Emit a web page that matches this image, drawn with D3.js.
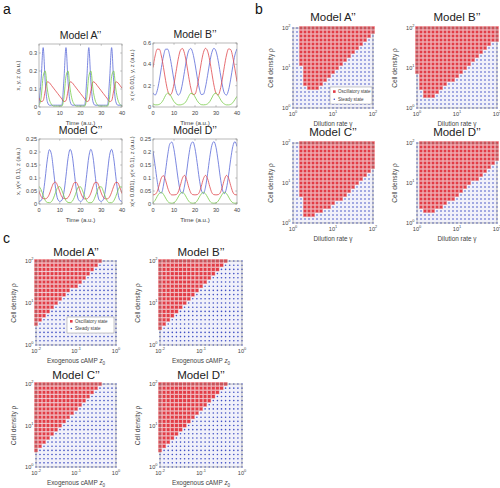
<!DOCTYPE html>
<html><head><meta charset="utf-8">
<script src="https://cdn.jsdelivr.net/npm/d3@7/dist/d3.min.js"></script>
<style>body{margin:0;background:#fff}svg{display:block}text{font-family:"Liberation Sans",Arial,sans-serif}</style>
</head><body><svg id="c" width="500" height="488"></svg>
<script>
// ---------- time-series data (t = 0..40) ----------
const time = [0,1,2,3,4,5,6,7,8,9,10,11,12,13,14,15,16,17,18,19,20,21,22,23,24,25,26,27,28,29,30,31,32,33,34,35,36,37,38,39,40];
const aX = [0.02,0.15,0.33,0.14,0.03,0.01,0.01,0.01,0.01,0.01,0.01,0.01,0.15,0.33,0.14,0.03,0.01,0.01,0.01,0.01,0.01,0.01,0.01,0.15,0.33,0.14,0.03,0.01,0.01,0.01,0.01,0.01,0.01,0.01,0.15,0.33,0.14,0.03,0.01,0.01,0.01];
const aY = [0.05,0.03,0.035,0.09,0.14,0.135,0.12,0.105,0.09,0.075,0.06,0.045,0.03,0.035,0.09,0.14,0.135,0.12,0.105,0.09,0.075,0.06,0.045,0.03,0.035,0.09,0.14,0.135,0.12,0.105,0.09,0.075,0.06,0.045,0.03,0.035,0.09,0.14,0.135,0.12,0.105];
const aZ = [0.01,0.05,0.17,0.2,0.1,0.04,0.015,0.005,0.005,0.005,0.005,0.005,0.05,0.17,0.2,0.1,0.04,0.015,0.005,0.005,0.005,0.005,0.005,0.05,0.17,0.2,0.1,0.04,0.015,0.005,0.005,0.005,0.005,0.005,0.05,0.17,0.2,0.1,0.04,0.015,0.005];
const bX = [0.134,0.111,0.153,0.249,0.370,0.478,0.542,0.542,0.478,0.370,0.249,0.153,0.111,0.134,0.217,0.333,0.449,0.529,0.549,0.503,0.405,0.284,0.178,0.117,0.120,0.187,0.297,0.416,0.510,0.550,0.523,0.438,0.321,0.206,0.129,0.112,0.161,0.261,0.382,0.487,0.545];
const bY = [0.370,0.478,0.542,0.542,0.478,0.370,0.249,0.153,0.111,0.134,0.217,0.333,0.449,0.529,0.549,0.503,0.405,0.284,0.178,0.117,0.120,0.187,0.297,0.416,0.510,0.550,0.523,0.438,0.321,0.206,0.129,0.112,0.161,0.261,0.382,0.487,0.545,0.538,0.468,0.357,0.238];
const bZ = [0.03,0.02,0.02,0.025,0.04,0.07,0.11,0.13,0.12,0.085,0.05,0.03,0.02,0.02,0.025,0.035,0.06,0.1,0.128,0.125,0.095,0.06,0.035,0.022,0.02,0.022,0.03,0.05,0.085,0.12,0.13,0.11,0.075,0.045,0.028,0.02,0.02,0.025,0.04,0.07,0.1];
const cX = [0.010,0.013,0.039,0.100,0.170,0.209,0.191,0.129,0.060,0.019,0.010,0.014,0.044,0.107,0.176,0.210,0.187,0.122,0.054,0.017,0.010,0.015,0.049,0.114,0.181,0.210,0.182,0.115,0.049,0.015,0.010,0.017,0.054,0.122,0.187,0.210,0.176,0.107,0.044,0.014,0.010];
const cY = [0.049,0.029,0.021,0.020,0.024,0.038,0.061,0.080,0.084,0.070,0.047,0.028,0.021,0.020,0.025,0.040,0.063,0.082,0.083,0.068,0.045,0.027,0.020,0.020,0.026,0.042,0.066,0.083,0.083,0.066,0.042,0.026,0.020,0.020,0.027,0.045,0.068,0.083,0.082,0.063,0.040];
const cZ = [0.068,0.055,0.033,0.014,0.006,0.005,0.009,0.023,0.045,0.063,0.067,0.053,0.031,0.013,0.006,0.005,0.010,0.025,0.047,0.065,0.066,0.051,0.029,0.012,0.005,0.005,0.010,0.027,0.049,0.066,0.066,0.049,0.027,0.010,0.005,0.005,0.012,0.029,0.051,0.066,0.065];
const dX = [0.204,0.148,0.088,0.048,0.042,0.073,0.129,0.189,0.231,0.238,0.209,0.154,0.094,0.051,0.041,0.069,0.123,0.184,0.228,0.239,0.213,0.160,0.099,0.054,0.040,0.065,0.117,0.178,0.225,0.240,0.218,0.166,0.105,0.057,0.040,0.061,0.111,0.172,0.221,0.240,0.221];
const dY = [0.035,0.037,0.048,0.074,0.101,0.109,0.091,0.062,0.042,0.035,0.035,0.036,0.046,0.071,0.099,0.110,0.094,0.065,0.043,0.036,0.035,0.036,0.044,0.068,0.097,0.110,0.097,0.068,0.044,0.036,0.035,0.036,0.043,0.065,0.094,0.110,0.099,0.071,0.046,0.036,0.035];
const dZ = [0.005,0.014,0.029,0.041,0.045,0.037,0.023,0.010,0.004,0.003,0.005,0.013,0.027,0.040,0.045,0.038,0.024,0.011,0.004,0.003,0.004,0.012,0.026,0.039,0.045,0.039,0.026,0.012,0.004,0.003,0.004,0.011,0.024,0.038,0.045,0.040,0.027,0.013,0.005,0.003,0.004];
const timeTicks = [0,10,20,30,40];

// ---------- phase-diagram data ----------
const gridB = [0,0.1,0.2,0.3,0.4,0.5,0.6,0.7,0.8,0.9,1.0,1.1,1.2,1.3,1.4,1.5,1.6,1.7,1.8,1.9,2.0];
const gridC = [-2,-1.9,-1.8,-1.7,-1.6,-1.5,-1.4,-1.3,-1.2,-1.1,-1.0,-0.9,-0.8,-0.7,-0.6,-0.5,-0.4,-0.3,-0.2,-0.1,0];
const rhoGrid = [0,0.1,0.2,0.3,0.4,0.5,0.6,0.7,0.8,0.9,1.0,1.1,1.2,1.3,1.4,1.5,1.6,1.7,1.8,1.9,2.0];
const bA_lo = [-1,-1,-1,-1,-1,4,3,3,3,3,3,2,2,2,2,2,2,2,2,2,2];
const bA_hi = [-1,-1,-1,-1,-1,6,7,8,9,10,11,12,13,14,15,16,17,18,19,20,20];
const bB_lo = [-1,-1,-1,2,2,1,1,1,1,0,0,0,0,0,0,0,0,0,0,0,0];
const bB_hi = [-1,-1,-1,4,5,6,7,9,10,11,12,13,14,15,16,17,18,20,20,20,20];
const bC_lo = [-1,-1,3,3,3,3,3,2,2,2,2,2,2,2,2,2,2,2,2,2,2];
const bC_hi = [-1,-1,5,7,9,10,12,13,14,15,16,17,18,19,20,20,20,20,20,20,20];
const bD_lo = [-1,-1,-1,2,1,1,1,1,1,1,1,1,1,1,1,1,1,1,1,1,1];
const bD_hi = [-1,-1,-1,4,6,7,9,10,11,12,13,15,16,17,18,19,20,20,20,20,20];
const cA_hi = [-1,-1,-1,-1,-1,0,1,2,3,4,5,6,7,8,10,11,12,13,14,15,16];
const cB_hi = [-1,-1,-1,-1,0,1,2,3,4,5,6,7,8,9,10,11,12,13,14,15,16];
const cC_hi = [-1,-1,-1,-1,0,1,2,3,4,5,6,7,8,9,10,11,12,13,14,15,16];
const cD_hi = [-1,-1,-1,-1,0,1,2,3,4,5,6,7,8,9,10,11,12,13,14,15,16];
const legendLabels = ["Oscillatory state","Steady state"];

const svg = d3.select("#c");
const BLUE="#5a6ad8", RED="#e0474c", GREEN="#78cc4a", AX="#8a8a8a", TXT="#444";

function label(x,y,t,size,anchor,rot){
  const e=svg.append("text").attr("x",x).attr("y",y).attr("font-size",size).attr("fill",TXT)
    .attr("text-anchor",anchor||"middle");
  if(rot) e.attr("transform",`rotate(-90,${x},${y})`);
  e.text(t); return e;
}
function pow10(g,x,y,exp,size,anchor){
  const t=g.append("text").attr("x",x).attr("y",y).attr("font-size",size).attr("fill",TXT).attr("text-anchor",anchor);
  t.append("tspan").text("10");
  t.append("tspan").attr("dy",-size*0.45).attr("font-size",size*0.7).text(exp);
}

function drawTS(o){
  const x=d3.scaleLinear().domain([0,40]).range([o.x0,o.x1]);
  const y=d3.scaleLinear().domain([0,o.ymax]).range([o.y1,o.y0]);
  const g=svg.append("g");
  const clipId="cl"+o.id;
  g.append("clipPath").attr("id",clipId).append("rect").attr("x",o.x0).attr("y",o.y0).attr("width",o.x1-o.x0).attr("height",o.y1-o.y0);
  const line=d3.line().x((d,i)=>x(time[i])).y(d=>y(d)).curve(d3.curveMonotoneX);
  const cols=[BLUE,RED,GREEN];
  o.series.forEach((s,k)=>g.append("path").attr("d",line(s)).attr("fill","none").attr("stroke",cols[k]).attr("stroke-width",0.8).attr("clip-path",`url(#${clipId})`));
  g.append("rect").attr("x",o.x0).attr("y",o.y0).attr("width",o.x1-o.x0).attr("height",o.y1-o.y0).attr("fill","none").attr("stroke",AX).attr("stroke-width",0.6);
  timeTicks.forEach(v=>{
    g.append("line").attr("x1",x(v)).attr("x2",x(v)).attr("y1",o.y1).attr("y2",o.y1-1.8).attr("stroke",AX).attr("stroke-width",0.5);
    g.append("line").attr("x1",x(v)).attr("x2",x(v)).attr("y1",o.y0).attr("y2",o.y0+1.8).attr("stroke",AX).attr("stroke-width",0.5);
    g.append("text").attr("x",x(v)).attr("y",o.y1+7.5).attr("font-size",5.6).attr("fill",TXT).attr("text-anchor","middle").text(v);
  });
  o.yticks.forEach((v,i)=>{
    g.append("line").attr("x1",o.x0).attr("x2",o.x0+1.8).attr("y1",y(v)).attr("y2",y(v)).attr("stroke",AX).attr("stroke-width",0.5);
    g.append("line").attr("x1",o.x1).attr("x2",o.x1-1.8).attr("y1",y(v)).attr("y2",y(v)).attr("stroke",AX).attr("stroke-width",0.5);
    g.append("text").attr("x",o.x0-2).attr("y",y(v)+2).attr("font-size",5.6).attr("fill",TXT).attr("text-anchor","end").text(o.ytickLabels[i]);
  });
  label((o.x0+o.x1)/2,o.y1+17.5,"Time (a.u.)",6.2);
  label(o.x0-19,(o.y0+o.y1)/2,o.ylabel,5.8,"middle",true);
  svg.append("text").attr("x",(o.x0+o.x1)/2).attr("y",o.y0-5).attr("font-size",10.5).attr("fill","#222").attr("text-anchor","middle").text(o.title);
}

function drawHeat(o){
  const x=d3.scaleLinear().domain([o.grid[0],o.grid[o.grid.length-1]]).range([o.x0,o.x1]);
  const y=d3.scaleLinear().domain([rhoGrid[0],rhoGrid[rhoGrid.length-1]]).range([o.y1,o.y0]);
  const g=svg.append("g");
  g.append("rect").attr("x",o.x0).attr("y",o.y0).attr("width",o.x1-o.x0).attr("height",o.y1-o.y0).attr("fill","#f1f1fa");
  const cells=[];
  rhoGrid.forEach((r,j)=>o.grid.forEach((p,i)=>{
    let red;
    if(o.lo) red = o.lo[j]>=0 && i>=o.lo[j] && i<=o.hi[j];
    else red = o.hi[j]>=0 && i<=o.hi[j];
    cells.push({p,r,red});
  }));
  const dx=(o.x1-o.x0)/(o.grid.length-1), dy=(o.y1-o.y0)/(rhoGrid.length-1);
  g.selectAll(".b").data(cells.filter(c=>!c.red)).join("circle")
    .attr("cx",d=>x(d.p)).attr("cy",d=>y(d.r)).attr("r",0.8).attr("fill","#3f4fc4");
  const rs=Math.min(dx,dy)*0.82;
  g.selectAll(".r").data(cells.filter(c=>c.red)).join("rect")
    .attr("x",d=>x(d.p)-rs/2).attr("y",d=>y(d.r)-rs/2).attr("width",rs).attr("height",rs)
    .attr("fill","#e23c46").attr("stroke","#f0a0a4").attr("stroke-width",0.4);
  g.append("rect").attr("x",o.x0).attr("y",o.y0).attr("width",o.x1-o.x0).attr("height",o.y1-o.y0).attr("fill","none").attr("stroke",AX).attr("stroke-width",0.6);
  o.xt.forEach(v=>{
    pow10(g,x(v),o.y1+8,String(v),5.6,"middle");
  });
  [0,1,2].forEach(v=>{
    pow10(g,o.x0-2.5,y(v)+2,String(v),5.6,"end");
  });
  const xl=g.append("text").attr("x",(o.x0+o.x1)/2).attr("y",o.y1+18).attr("font-size",6.4).attr("fill",TXT).attr("text-anchor","middle");
  if(o.kind==="b"){ xl.text("Dilution rate γ"); }
  else { xl.text("Exogenous cAMP "); xl.append("tspan").attr("font-style","italic").text("z"); xl.append("tspan").attr("dy",1.5).attr("font-size",4.5).text("0"); }
  label(o.x0-20,(o.y0+o.y1)/2,"Cell density ρ",6.6,"middle",true);
  svg.append("text").attr("x",(o.x0+o.x1)/2).attr("y",o.y0-(o.kind==="b"?7:5)).attr("font-size",11.5).attr("fill","#222").attr("text-anchor","middle").text(o.title);
  if(o.legend){
    const L=o.legend;
    g.append("rect").attr("x",L.x).attr("y",L.y).attr("width",L.w).attr("height",L.h).attr("fill","#fff").attr("stroke","#777").attr("stroke-width",0.4);
    g.append("rect").attr("x",L.x+3).attr("y",L.y+L.h*0.27-1.3).attr("width",2.6).attr("height",2.6).attr("fill","#e23c46");
    g.append("circle").attr("cx",L.x+4.3).attr("cy",L.y+L.h*0.72).attr("r",0.8).attr("fill","#3f4fc4");
    legendLabels.forEach((t,k)=>g.append("text").attr("x",L.x+8).attr("y",L.y+L.h*(k?0.72:0.27)+1.6).attr("font-size",4.6).attr("fill",TXT).text(t));
  }
}

svg.append("text").attr("x",3).attr("y",14).attr("font-size",14).attr("fill","#111").text("a");
svg.append("text").attr("x",255).attr("y",14).attr("font-size",14).attr("fill","#111").text("b");
svg.append("text").attr("x",3).attr("y",243).attr("font-size",14).attr("fill","#111").text("c");

drawTS({id:"A",x0:39,x1:122,y0:44,y1:107,ymax:0.35,yticks:[0,0.1,0.2,0.3],ytickLabels:["0","0.1","0.2","0.3"],series:[aX,aY,aZ],title:"Model A’’",ylabel:"x, y, z (a.u.)"});
drawTS({id:"B",x0:153,x1:237,y0:43,y1:107,ymax:0.6,yticks:[0,0.2,0.4,0.6],ytickLabels:["0","0.2","0.4","0.6"],series:[bX,bY,bZ],title:"Model B’’",ylabel:"x (× 0.01), y, z (a.u.)"});
drawTS({id:"C",x0:39,x1:122,y0:139,y1:204,ymax:0.25,yticks:[0,0.05,0.1,0.15,0.2,0.25],ytickLabels:["0","0.05","0.1","0.15","0.2","0.25"],series:[cX,cY,cZ],title:"Model C’’",ylabel:"x, y(× 0.1), z (a.u.)"});
drawTS({id:"D",x0:153,x1:237,y0:139,y1:204,ymax:0.25,yticks:[0,0.05,0.1,0.15,0.2,0.25],ytickLabels:["0","0.05","0.1","0.15","0.2","0.25"],series:[dX,dY,dZ],title:"Model D’’",ylabel:"x(× 0.001), y(× 0.1), z (a.u.)"});

drawHeat({kind:"b",grid:gridB,xt:[0,1,2],x0:293,x1:373,y0:28,y1:108,lo:bA_lo,hi:bA_hi,title:"Model A’’",legend:{x:330,y:87,w:42,h:17}});
drawHeat({kind:"b",grid:gridB,xt:[0,1,2],x0:417,x1:497,y0:28,y1:108,lo:bB_lo,hi:bB_hi,title:"Model B’’"});
drawHeat({kind:"b",grid:gridB,xt:[0,1,2],x0:293,x1:373,y0:143,y1:223,lo:bC_lo,hi:bC_hi,title:"Model C’’"});
drawHeat({kind:"b",grid:gridB,xt:[0,1,2],x0:417,x1:497,y0:143,y1:223,lo:bD_lo,hi:bD_hi,title:"Model D’’"});

drawHeat({kind:"c",grid:gridC,xt:[-2,-1,0],x0:36,x1:116,y0:261,y1:345,hi:cA_hi,title:"Model A’’",legend:{x:67,y:317,w:47,h:16}});
drawHeat({kind:"c",grid:gridC,xt:[-2,-1,0],x0:160,x1:242,y0:261,y1:345,hi:cB_hi,title:"Model B’’"});
drawHeat({kind:"c",grid:gridC,xt:[-2,-1,0],x0:36,x1:116,y0:384,y1:467,hi:cC_hi,title:"Model C’’"});
drawHeat({kind:"c",grid:gridC,xt:[-2,-1,0],x0:160,x1:242,y0:384,y1:467,hi:cD_hi,title:"Model D’’"});
</script></body></html>
